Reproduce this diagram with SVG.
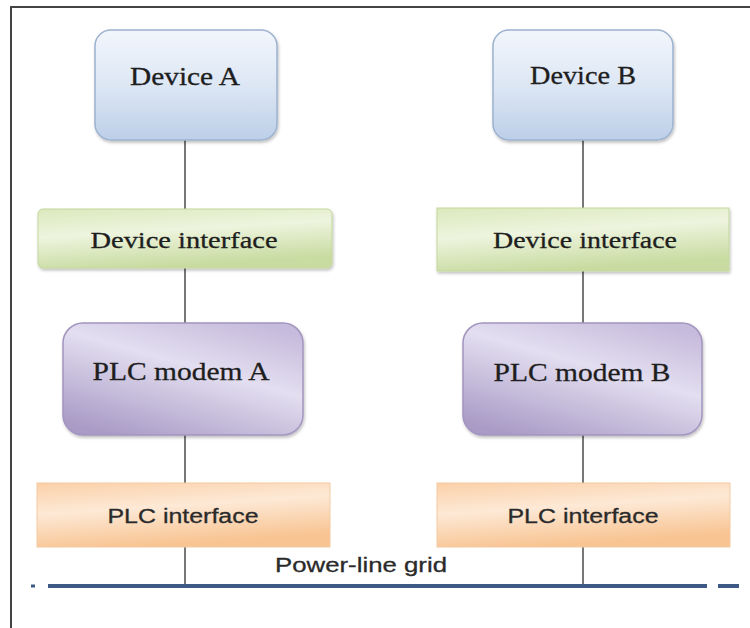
<svg xmlns="http://www.w3.org/2000/svg" width="750" height="628" viewBox="0 0 750 628">
<defs>
<linearGradient id="gBlue" x1="0" y1="0" x2="0" y2="1"><stop offset="0" stop-color="#f2f6fc"/><stop offset="0.5" stop-color="#dde7f4"/><stop offset="1" stop-color="#bccfe8"/></linearGradient>
<linearGradient id="gGreen" x1="0" y1="0" x2="0.3" y2="1"><stop offset="0" stop-color="#dbe9bd"/><stop offset="0.45" stop-color="#eef4de"/><stop offset="1" stop-color="#c8dca2"/></linearGradient>
<linearGradient id="gPurple" x1="0.2" y1="1" x2="0.8" y2="0"><stop offset="0" stop-color="#a99bc6"/><stop offset="0.6" stop-color="#e3def0"/><stop offset="1" stop-color="#c6bbdc"/></linearGradient>
<linearGradient id="gOrange" x1="0" y1="0" x2="0.3" y2="1"><stop offset="0" stop-color="#fbd0a8"/><stop offset="0.45" stop-color="#fde9d6"/><stop offset="1" stop-color="#f8c492"/></linearGradient>
<filter id="sh" x="-10%" y="-10%" width="120%" height="130%"><feDropShadow dx="1" dy="2" stdDeviation="1.5" flood-color="#000" flood-opacity="0.25"/></filter>
</defs>
<style>
.conn{stroke:#555;stroke-width:1.6;fill:none}
.ser{font-family:"Liberation Serif","Times New Roman",serif;fill:#1e1e1e;stroke:#1e1e1e;stroke-width:0.3;text-anchor:middle}
.sans{font-family:"Liberation Sans",Arial,sans-serif;fill:#2a2a2a;stroke:#2a2a2a;stroke-width:0.3;text-anchor:middle}
.blue{fill:url(#gBlue);stroke:#9cb2cf;stroke-width:1.5;filter:url(#sh)}
.green{fill:url(#gGreen);stroke:#c4d79c;stroke-width:1;filter:url(#sh)}
.purple{fill:url(#gPurple);stroke:#a295bf;stroke-width:1.5;filter:url(#sh)}
.orange{fill:url(#gOrange);stroke:#f3c9a2;stroke-width:1}
.grid{stroke:#3d5a87;stroke-width:4}
</style>
<rect x="0" y="0" width="750" height="628" fill="#fff"/>
<g id="frame"><path d="M11 628 V7 H750" stroke="#444" stroke-width="2" fill="none"/></g>
<g id="connectors">
<line class="conn" x1="185" y1="140" x2="185" y2="209"/>
<line class="conn" x1="185" y1="268" x2="185" y2="323"/>
<line class="conn" x1="185" y1="435" x2="185" y2="483"/>
<line class="conn" x1="185" y1="547" x2="185" y2="586"/>
<line class="conn" x1="583" y1="140" x2="583" y2="208"/>
<line class="conn" x1="583" y1="271" x2="583" y2="323"/>
<line class="conn" x1="583" y1="435" x2="583" y2="483"/>
<line class="conn" x1="583" y1="547" x2="583" y2="586"/>
</g>
<g id="power-line-grid">
<line class="grid" x1="48" y1="586" x2="707" y2="586"/>
<line class="grid" x1="718" y1="586" x2="739" y2="586"/>
<rect x="31" y="584.5" width="4" height="3" fill="#3d5a87"/>
<text class="sans" x="361" y="572" font-size="21" textLength="172" lengthAdjust="spacingAndGlyphs">Power-line grid</text>
</g>
<g id="device-a"><rect class="blue" x="95" y="30" width="182" height="110" rx="16"/><text class="ser" x="185" y="85" font-size="25" textLength="110" lengthAdjust="spacingAndGlyphs">Device A</text></g>
<g id="device-b"><rect class="blue" x="493" y="30" width="180" height="110" rx="16"/><text class="ser" x="583" y="84" font-size="25" textLength="106" lengthAdjust="spacingAndGlyphs">Device B</text></g>
<g id="device-interface-a"><rect class="green" x="38" y="209" width="294" height="59" rx="5"/><text class="ser" x="184" y="248" font-size="24" textLength="187" lengthAdjust="spacingAndGlyphs">Device interface</text></g>
<g id="device-interface-b"><rect class="green" x="437" y="208" width="292" height="63"/><text class="ser" x="585" y="248" font-size="24" textLength="184" lengthAdjust="spacingAndGlyphs">Device interface</text></g>
<g id="plc-modem-a"><rect class="purple" x="63" y="323" width="240" height="112" rx="20"/><text class="ser" x="181" y="380" font-size="26" textLength="177" lengthAdjust="spacingAndGlyphs">PLC modem A</text></g>
<g id="plc-modem-b"><rect class="purple" x="463" y="323" width="239" height="112" rx="20"/><text class="ser" x="582" y="381" font-size="26" textLength="177" lengthAdjust="spacingAndGlyphs">PLC modem B</text></g>
<g id="plc-interface-a"><rect class="orange" x="37" y="483" width="293" height="64"/><text class="sans" x="183" y="523" font-size="20" textLength="151" lengthAdjust="spacingAndGlyphs">PLC interface</text></g>
<g id="plc-interface-b"><rect class="orange" x="437" y="483" width="293" height="64"/><text class="sans" x="583" y="523" font-size="20" textLength="151" lengthAdjust="spacingAndGlyphs">PLC interface</text></g>
</svg>
